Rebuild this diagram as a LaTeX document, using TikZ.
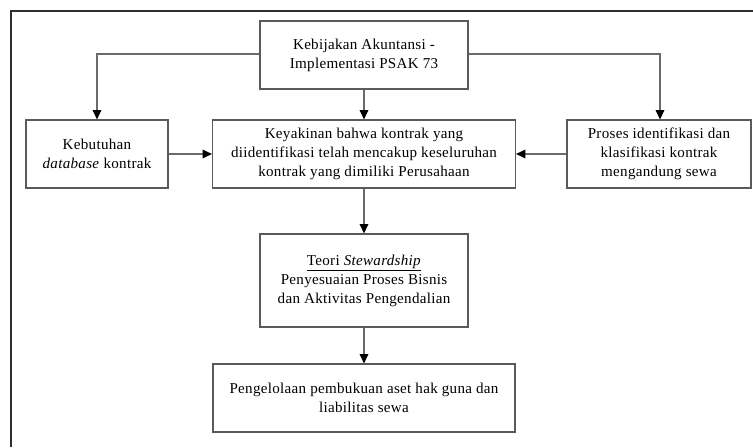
\documentclass[tikz,border=0pt]{standalone}
\usepackage{fontspec}
\setmainfont{Liberation Serif}[LetterSpace=2]
\usetikzlibrary{arrows.meta}
\definecolor{boxgray}{HTML}{5A5A5A}
\definecolor{linegray}{HTML}{6A6A6A}
\definecolor{framegray}{HTML}{2E2E2E}
\begin{document}
\begin{tikzpicture}[x=0.75pt,y=-0.75pt,
  boxstyle/.style={draw=boxgray,line width=0.9pt,rectangle,inner sep=0pt,align=center,
    font=\fontsize{11.3}{14.2}\selectfont},
  conn/.style={draw=linegray,line width=0.8pt,-{Triangle[length=7pt,width=6.5pt,color=black]}}]
\useasboundingbox (0,0) rectangle (753,447);
\draw[framegray,line width=1.6pt] (11,447) -- (11,11) -- (753,11);
\node[boxstyle,minimum width=208*0.75pt,minimum height=68*0.75pt] (top) at (364,55)
  {Kebijakan Akuntansi -\\Implementasi PSAK 73};
\node[boxstyle,minimum width=142*0.75pt,minimum height=68*0.75pt] (keb) at (97,154)
  {Kebutuhan\\\textit{database} kontrak};
\node[boxstyle,minimum width=303*0.75pt,minimum height=68*0.75pt] (mid) at (364,154)
  {Keyakinan bahwa kontrak yang\\diidentifikasi telah mencakup keseluruhan\\kontrak yang dimiliki Perusahaan};
\node[boxstyle,minimum width=184*0.75pt,minimum height=68*0.75pt] (pro) at (659,154)
  {Proses identifikasi dan\\klasifikasi kontrak\\mengandung sewa};
\node[boxstyle,minimum width=208*0.75pt,minimum height=93*0.75pt] (teo) at (364,280.5)
  {\underline{Teori \textit{Stewardship}}\\Penyesuaian Proses Bisnis\\dan Aktivitas Pengendalian};
\node[boxstyle,minimum width=302*0.75pt,minimum height=68*0.75pt] (bot) at (364,398)
  {Pengelolaan pembukuan aset hak guna dan\\liabilitas sewa};
\coordinate (tl) at (97,54);
\coordinate (tr) at (660,54);
\draw[conn] (top.west |- tl) -- (tl) -- (keb.north);
\draw[conn] (top.east |- tr) -- (tr) -- (tr |- pro.north);
\draw[conn] (top.south) -- (mid.north);
\draw[conn] (keb.east) -- (mid.west);
\draw[conn] (pro.west) -- (mid.east);
\draw[conn] (mid.south) -- (teo.north);
\draw[conn] (teo.south) -- (bot.north);
\end{tikzpicture}
\end{document}
